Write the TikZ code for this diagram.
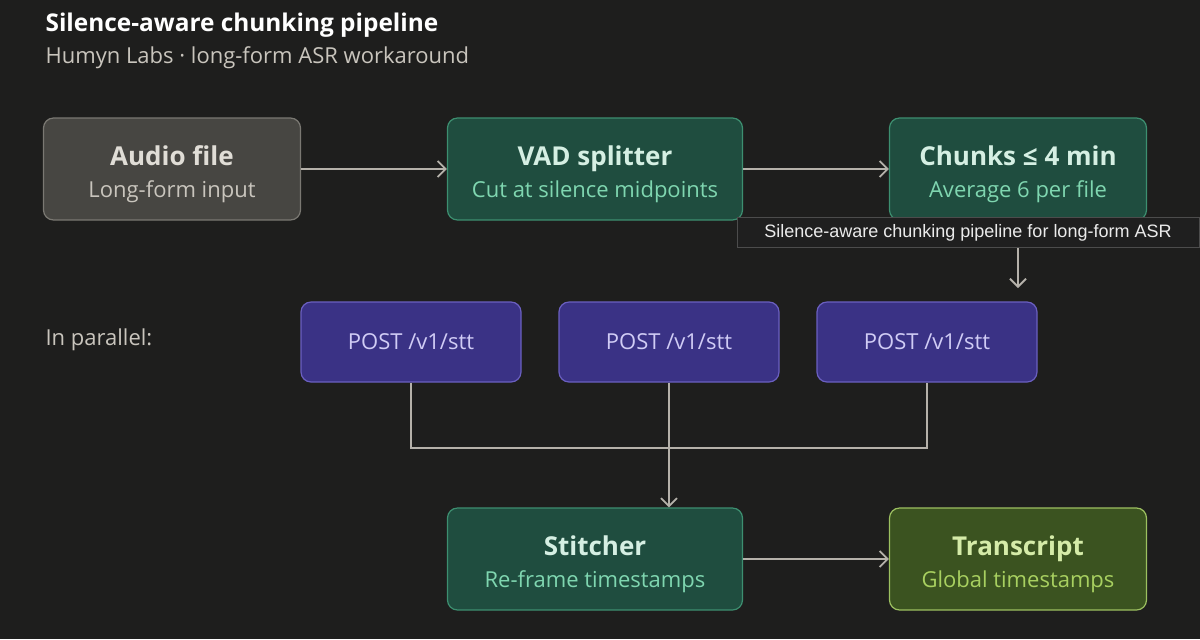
\documentclass[tikz,border=0pt]{standalone}
\usepackage{fontspec}
\setmainfont{Open Sans}
\newfontfamily\tipfont{Liberation Sans}
\usetikzlibrary{positioning, arrows.meta}
\definecolor{bgc}{HTML}{1E1E1D}
\definecolor{linec}{HTML}{B5B1AA}
\definecolor{grayfill}{HTML}{474642}\definecolor{graydraw}{HTML}{7A7872}
\definecolor{grayhead}{HTML}{E0DDD6}\definecolor{graysub}{HTML}{C9C5BD}
\definecolor{tealfill}{HTML}{1F4D3F}\definecolor{tealdraw}{HTML}{3D8F70}
\definecolor{tealhead}{HTML}{D5EFE3}\definecolor{tealsub}{HTML}{7FD6B0}
\definecolor{purpfill}{HTML}{3A3285}\definecolor{purpdraw}{HTML}{6A5FC0}
\definecolor{purptext}{HTML}{D0CCF5}
\definecolor{olivefill}{HTML}{3B5320}\definecolor{olivedraw}{HTML}{9CC060}
\definecolor{olivehead}{HTML}{D5EBA8}\definecolor{olivesub}{HTML}{A8D060}
\newcommand{\boxhead}[2]{\rule{0pt}{15pt}\textcolor{#1}{\bfseries\fontsize{13}{15}\selectfont #2}}
\newcommand{\boxsub}[2]{\textcolor{#1}{\fontsize{11}{13}\selectfont #2}}

\begin{document}
\begin{tikzpicture}[x=0.5pt, y=-0.5pt, line width=0.9pt,
  step box/.style={rectangle, rounded corners=5pt, draw, line width=0.6pt,
    minimum height=51pt, align=center, inner sep=0pt},
  wide box/.style={step box, minimum width=147.5pt},
  narrow box/.style={step box, minimum width=128.5pt},
  api box/.style={rectangle, rounded corners=5pt, draw=purpdraw, fill=purpfill,
    line width=0.6pt, minimum width=110pt, minimum height=40pt,
    text=purptext, font=\fontsize{11}{13}\selectfont},
  flow/.style={draw=linec, -{Straight Barb[length=4pt, width=8pt]}}]

\fill[bgc] (0,0) rectangle (1200,639);

\node[anchor=west, text=white, font=\fontsize{12.2}{14}\selectfont\bfseries] (title) at (38,25) {Silence-aware chunking pipeline};
\node[anchor=west, text=graysub, font=\fontsize{11}{13}\selectfont] (subtitle) at (38,58) {Humyn Labs · long-form ASR workaround};

\node[narrow box, fill=grayfill, draw=graydraw] (audio) at (172,169)
  {\boxhead{grayhead}{Audio file}\\[4pt]\boxsub{graysub}{Long-form input}};
\node[wide box, fill=tealfill, draw=tealdraw] (vad) at (595,169)
  {\boxhead{tealhead}{VAD splitter}\\[4pt]\boxsub{tealsub}{Cut at silence midpoints}};
\node[narrow box, fill=tealfill, draw=tealdraw] (chunks) at (1018,169)
  {\boxhead{tealhead}{Chunks ≤ 4 min}\\[4pt]\boxsub{tealsub}{Average 6 per file}};

\node[rectangle, fill=black!88!white, draw=white!30!black, line width=0.5pt, minimum width=231pt,
  minimum height=13.5pt, text=white!92!black, font=\tipfont\fontsize{9}{11}\selectfont] (tip) at (968,232.5)
  {Silence-aware chunking pipeline for long-form ASR};
\coordinate (split) at (1018,288);

\node[anchor=west, text=graysub, font=\fontsize{11}{13}\selectfont] (par) at (38,340) {In parallel:};
\node[api box] (post1) at (411,342) {POST /v1/stt};
\node[api box] (post2) at (669,342) {POST /v1/stt};
\node[api box] (post3) at (927,342) {POST /v1/stt};

\node[wide box, fill=tealfill, draw=tealdraw] (stitch) at (595,559)
  {\boxhead{tealhead}{Stitcher}\\[4pt]\boxsub{tealsub}{Re-frame timestamps}};
\node[narrow box, fill=olivefill, draw=olivedraw] (trans) at (1018,559)
  {\boxhead{olivehead}{Transcript}\\[4pt]\boxsub{olivesub}{Global timestamps}};

\coordinate (join) at (669,448);
\draw[flow] (audio) -- (vad);
\draw[flow] (vad) -- (chunks);
\draw[flow] (tip.south -| split) -- (split);
\draw[linec, line width=0.6pt] (post1.south) |- (join) -| (post3.south);
\draw[linec, line width=0.6pt] (post2.south) -- (join);
\draw[flow] (join) -- (join |- stitch.north);
\draw[flow] (stitch) -- (trans);
\end{tikzpicture}
\end{document}
